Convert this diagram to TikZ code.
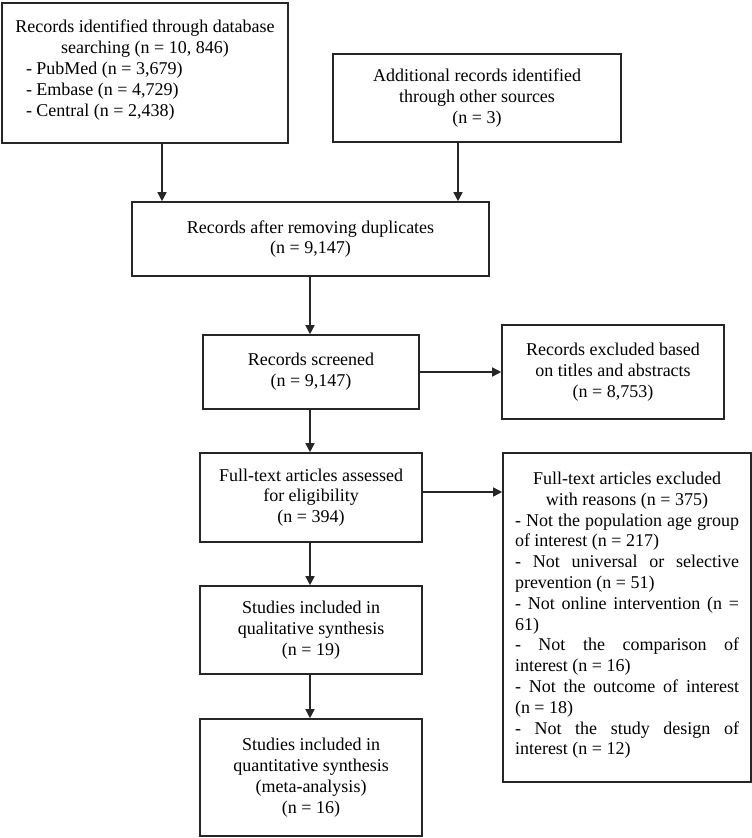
\documentclass[tikz,border=0pt]{standalone}
\usepackage{fontspec}
\setmainfont{Liberation Serif}
\usetikzlibrary{arrows.meta}
\tikzset{
  box/.style={draw=black!85, line width=1.6pt, fill=white, inner sep=0pt, anchor=center, align=center, font=\fontsize{18}{20.8}\selectfont},
  arr/.style={draw=black!85, line width=1.5pt, -{Triangle[length=9pt,width=9pt]}}
}
\begin{document}
\begin{tikzpicture}[x=1pt,y=-1pt]
\useasboundingbox (0,0) rectangle (752,838);
\node[box, minimum width=286pt, minimum height=140pt] (b1) at (145,73) {%
  \begin{minipage}{266pt}\centering
  Records identified through database\\ searching (n = 10, 846)\par
  \raggedright
  \hspace*{14pt}- PubMed (n = 3,679)\\
  \hspace*{14pt}- Embase (n = 4,729)\\
  \hspace*{14pt}- Central (n = 2,438)\par
  \vspace*{6pt}
  \end{minipage}};
\node[box, minimum width=288pt, minimum height=88pt] (b2) at (477,98) {Additional records identified\\ through other sources\\ (n = 3)};
\node[box, minimum width=357pt, minimum height=74pt] (dup) at (310.5,239) {Records after removing duplicates\\ (n = 9,147)};
\node[box, minimum width=216pt, minimum height=74pt] (scr) at (311,372) {Records screened\\ (n = 9,147)};
\node[box, minimum width=222pt, minimum height=94pt] (ex1) at (613,372) {Records excluded based\\ on titles and abstracts\\ (n = 8,753)};
\node[box, minimum width=222pt, minimum height=89pt] (full) at (311,497.5) {Full-text articles assessed\\ for eligibility\\ (n = 394)};
\node[box, minimum width=248pt, minimum height=329pt] (ex2) at (627,617.5) {%
  \begin{minipage}[c][329pt][t]{224pt}\vspace*{19pt}%
  {\centering Full-text articles excluded\\ with reasons (n = 375)\par}
  \parindent=0pt \hyphenpenalty=10000 \hfuzz=20pt
  - Not the population age group\linebreak of interest (n = 217)\par
  - Not universal or selective\linebreak prevention (n = 51)\par
  - Not online intervention (n =\linebreak 61)\par
  - Not the comparison of\linebreak interest (n = 16)\par
  - Not the outcome of interest\linebreak (n = 18)\par
  - Not the study design of\linebreak interest (n = 12)\par
  \end{minipage}};
\node[box, minimum width=222pt, minimum height=88pt] (qual) at (311,630) {Studies included in\\ qualitative synthesis\\ (n = 19)};
\node[box, minimum width=222pt, minimum height=117pt] (quant) at (311,777.5) {Studies included in\\ quantitative synthesis\\ (meta-analysis)\\ (n = 16)};
\draw[arr] (b1.south -| 162,0) -- (dup.north -| 162,0);
\draw[arr] (b2.south -| 458,0) -- (dup.north -| 458,0);
\draw[arr] (dup.south -| 310,0) -- (scr.north -| 310,0);
\draw[arr] (scr.east) -- (ex1.west);
\draw[arr] (scr.south -| 310,0) -- (full.north -| 310,0);
\draw[arr] (full.east |- 0,492) -- (ex2.west |- 0,492);
\draw[arr] (full.south -| 310,0) -- (qual.north -| 310,0);
\draw[arr] (qual.south -| 310,0) -- (quant.north -| 310,0);
\end{tikzpicture}
\end{document}
